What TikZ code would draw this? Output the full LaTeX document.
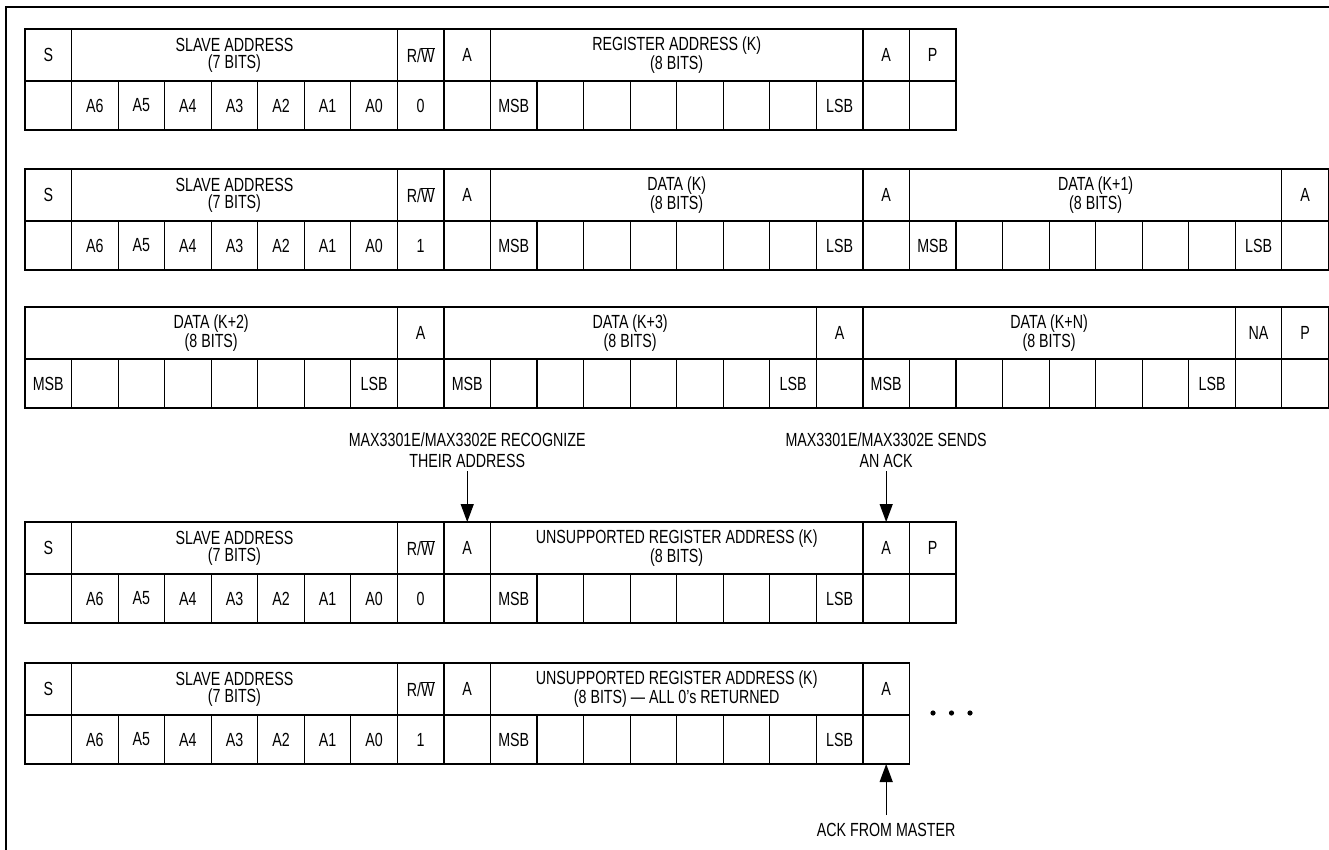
\documentclass[tikz,border=0pt]{standalone}
\usepackage{fontspec}
\setmainfont{Liberation Sans}[FakeStretch=0.75]
\usetikzlibrary{arrows.meta}

\newcommand{\rwbar}{R/$\overline{\mbox{W}}$}

\tikzset{
  every node/.style={font=\fontsize{19}{17}\selectfont},
  field/.style={draw, line width=1.2pt, inner sep=0pt, outer sep=0pt, anchor=north west,
    minimum height=52pt, align=center},
  bit/.style={draw, line width=1.2pt, inner sep=0pt, outer sep=0pt, anchor=north west,
    minimum width=46.55pt, minimum height=49pt},
  note/.style={align=center, font=\fontsize{19}{21}\selectfont},
  pointer/.style={line width=1.3pt, -{Triangle[width=13pt,length=18pt]}},
}

\begin{document}
\begin{tikzpicture}[x=1pt, y=-1pt]
  \useasboundingbox (0,0) rectangle (1329,850);

  % Frame round the figure
  \draw[line width=2pt] (1329,7) -- (6,7) -- (6,850);

  % Write register address
  \foreach \c/\n/\t [count=\i] in {0/1/S, 1/7/{SLAVE ADDRESS\\(7 BITS)}, 8/1/\rwbar, 9/1/A,
      10/8/{REGISTER ADDRESS (K)\\(8 BITS)}, 18/1/A, 19/1/P}
    \node[field, minimum width=\n*46.55pt] (r1h\i) at ({25+\c*46.55}, 29) {\t};
  \foreach \t [count=\c from 0] in {{}, A6, A5, A4, A3, A2, A1, A0, 0, {}, MSB, {}, {}, {}, {}, {}, {}, LSB, {}, {}}
    \node[bit] (r1b\c) at ({25+\c*46.55}, 81) {\t};

  % Read data bytes
  \foreach \c/\n/\t [count=\i] in {0/1/S, 1/7/{SLAVE ADDRESS\\(7 BITS)}, 8/1/\rwbar, 9/1/A,
      10/8/{DATA (K)\\(8 BITS)}, 18/1/A, 19/8/{DATA (K+1)\\(8 BITS)}, 27/1/A}
    \node[field, minimum width=\n*46.55pt] (r2h\i) at ({25+\c*46.55}, 169) {\t};
  \foreach \t [count=\c from 0] in {{}, A6, A5, A4, A3, A2, A1, A0, 1, {}, MSB, {}, {}, {}, {}, {}, {}, LSB, {},
      MSB, {}, {}, {}, {}, {}, {}, LSB, {}}
    \node[bit] (r2b\c) at ({25+\c*46.55}, 221) {\t};

  % Read data bytes, continued
  \foreach \c/\n/\t [count=\i] in {0/8/{DATA (K+2)\\(8 BITS)}, 8/1/A, 9/8/{DATA (K+3)\\(8 BITS)}, 17/1/A,
      18/8/{DATA (K+N)\\(8 BITS)}, 26/1/NA, 27/1/P}
    \node[field, minimum width=\n*46.55pt] (r3h\i) at ({25+\c*46.55}, 307) {\t};
  \foreach \t [count=\c from 0] in {MSB, {}, {}, {}, {}, {}, {}, LSB, {}, MSB, {}, {}, {}, {}, {}, {}, LSB, {},
      MSB, {}, {}, {}, {}, {}, {}, LSB, {}, {}}
    \node[bit] (r3b\c) at ({25+\c*46.55}, 359) {\t};

  % Write unsupported register address
  \foreach \c/\n/\t [count=\i] in {0/1/S, 1/7/{SLAVE ADDRESS\\(7 BITS)}, 8/1/\rwbar, 9/1/A,
      10/8/{UNSUPPORTED REGISTER ADDRESS (K)\\(8 BITS)}, 18/1/A, 19/1/P}
    \node[field, minimum width=\n*46.55pt] (r4h\i) at ({25+\c*46.55}, 522) {\t};
  \foreach \t [count=\c from 0] in {{}, A6, A5, A4, A3, A2, A1, A0, 0, {}, MSB, {}, {}, {}, {}, {}, {}, LSB, {}, {}}
    \node[bit] (r4b\c) at ({25+\c*46.55}, 574) {\t};

  % Read unsupported register address
  \foreach \c/\n/\t [count=\i] in {0/1/S, 1/7/{SLAVE ADDRESS\\(7 BITS)}, 8/1/\rwbar, 9/1/A,
      10/8/{UNSUPPORTED REGISTER ADDRESS (K)\\(8 BITS) — ALL 0's RETURNED}, 18/1/A}
    \node[field, minimum width=\n*46.55pt] (r5h\i) at ({25+\c*46.55}, 663) {\t};
  \foreach \t [count=\c from 0] in {{}, A6, A5, A4, A3, A2, A1, A0, 1, {}, MSB, {}, {}, {}, {}, {}, {}, LSB, {}}
    \node[bit] (r5b\c) at ({25+\c*46.55}, 715) {\t};
  \foreach \k in {0,1,2}
    \fill ({933+\k*18.5}, 713) circle (2.6pt);

  % Notes and pointers
  \node[note] (recog) at ([yshift=72pt]r4h4.north) {MAX3301E/MAX3302E RECOGNIZE\\THEIR ADDRESS};
  \node[note] (sends) at ([yshift=72pt]r4h6.north) {MAX3301E/MAX3302E SENDS\\AN ACK};
  \node[note, inner sep=8pt] (ackm) at ([yshift=-66pt]r5b18.south) {ACK FROM MASTER};
  \draw[pointer] (recog) -- (r4h4);
  \draw[pointer] (sends) -- (r4h6);
  \draw[pointer] (ackm) -- (r5b18);
\end{tikzpicture}
\end{document}
